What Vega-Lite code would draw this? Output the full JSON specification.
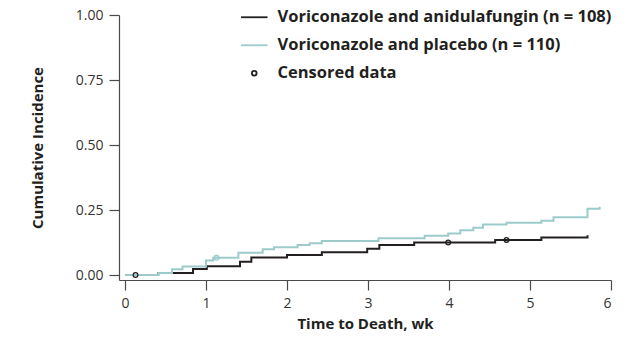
{
  "$schema": "https://vega.github.io/schema/vega-lite/v6.json",
  "width": 492,
  "height": 265,
  "autosize": {"type": "none"},
  "padding": {"left": 119, "top": 15, "right": 17, "bottom": 63},
  "background": "white",
  "config": {
    "font": "Open Sans",
    "view": {"stroke": null},
    "axis": {
      "domainColor": "#4a4a4a",
      "tickColor": "#4a4a4a",
      "domainWidth": 1.2,
      "tickWidth": 1.2,
      "tickSize": 10,
      "labelColor": "#333333",
      "labelFontSize": 14,
      "labelFont": "Open Sans",
      "titleFont": "Open Sans",
      "titleFontSize": 15,
      "titleFontWeight": "bold",
      "titleColor": "#231f20",
      "grid": false
    }
  },
  "datasets": {
    "curves": [
      {"week": 0, "ci": 0, "entry": "Voriconazole and anidulafungin (n = 108)"},
      {"week": 0.41, "ci": 0.008, "entry": "Voriconazole and anidulafungin (n = 108)"},
      {"week": 0.84, "ci": 0.023, "entry": "Voriconazole and anidulafungin (n = 108)"},
      {"week": 1.01, "ci": 0.034, "entry": "Voriconazole and anidulafungin (n = 108)"},
      {"week": 1.42, "ci": 0.051, "entry": "Voriconazole and anidulafungin (n = 108)"},
      {"week": 1.56, "ci": 0.067, "entry": "Voriconazole and anidulafungin (n = 108)"},
      {"week": 2.0, "ci": 0.077, "entry": "Voriconazole and anidulafungin (n = 108)"},
      {"week": 2.43, "ci": 0.088, "entry": "Voriconazole and anidulafungin (n = 108)"},
      {"week": 2.99, "ci": 0.101, "entry": "Voriconazole and anidulafungin (n = 108)"},
      {"week": 3.14, "ci": 0.115, "entry": "Voriconazole and anidulafungin (n = 108)"},
      {"week": 3.57, "ci": 0.125, "entry": "Voriconazole and anidulafungin (n = 108)"},
      {"week": 4.57, "ci": 0.135, "entry": "Voriconazole and anidulafungin (n = 108)"},
      {"week": 5.14, "ci": 0.144, "entry": "Voriconazole and anidulafungin (n = 108)"},
      {"week": 5.71, "ci": 0.153, "entry": "Voriconazole and anidulafungin (n = 108)"},
      {"week": 0, "ci": 0, "entry": "Voriconazole and placebo (n = 110)"},
      {"week": 0.41, "ci": 0.008, "entry": "Voriconazole and placebo (n = 110)"},
      {"week": 0.58, "ci": 0.022, "entry": "Voriconazole and placebo (n = 110)"},
      {"week": 0.71, "ci": 0.033, "entry": "Voriconazole and placebo (n = 110)"},
      {"week": 1.0, "ci": 0.056, "entry": "Voriconazole and placebo (n = 110)"},
      {"week": 1.09, "ci": 0.066, "entry": "Voriconazole and placebo (n = 110)"},
      {"week": 1.4, "ci": 0.086, "entry": "Voriconazole and placebo (n = 110)"},
      {"week": 1.7, "ci": 0.099, "entry": "Voriconazole and placebo (n = 110)"},
      {"week": 1.84, "ci": 0.107, "entry": "Voriconazole and placebo (n = 110)"},
      {"week": 2.13, "ci": 0.115, "entry": "Voriconazole and placebo (n = 110)"},
      {"week": 2.28, "ci": 0.122, "entry": "Voriconazole and placebo (n = 110)"},
      {"week": 2.43, "ci": 0.131, "entry": "Voriconazole and placebo (n = 110)"},
      {"week": 3.13, "ci": 0.141, "entry": "Voriconazole and placebo (n = 110)"},
      {"week": 3.7, "ci": 0.151, "entry": "Voriconazole and placebo (n = 110)"},
      {"week": 3.99, "ci": 0.16, "entry": "Voriconazole and placebo (n = 110)"},
      {"week": 4.14, "ci": 0.172, "entry": "Voriconazole and placebo (n = 110)"},
      {"week": 4.3, "ci": 0.182, "entry": "Voriconazole and placebo (n = 110)"},
      {"week": 4.42, "ci": 0.194, "entry": "Voriconazole and placebo (n = 110)"},
      {"week": 4.71, "ci": 0.201, "entry": "Voriconazole and placebo (n = 110)"},
      {"week": 5.14, "ci": 0.209, "entry": "Voriconazole and placebo (n = 110)"},
      {"week": 5.29, "ci": 0.222, "entry": "Voriconazole and placebo (n = 110)"},
      {"week": 5.71, "ci": 0.255, "entry": "Voriconazole and placebo (n = 110)"},
      {"week": 5.86, "ci": 0.263, "entry": "Voriconazole and placebo (n = 110)"}
    ],
    "censored": [
      {"week": 0.13, "ci": 0, "grp": "anidulafungin", "entry": "Censored data"},
      {"week": 1.13, "ci": 0.066, "grp": "placebo", "entry": "Censored data"},
      {"week": 3.99, "ci": 0.125, "grp": "anidulafungin", "entry": "Censored data"},
      {"week": 4.71, "ci": 0.135, "grp": "anidulafungin", "entry": "Censored data"}
    ]
  },
  "layer": [
    {
      "data": {"name": "curves"},
      "mark": {"type": "line", "interpolate": "step-after", "strokeWidth": 2},
      "encoding": {
        "x": {
          "field": "week", "type": "quantitative",
          "scale": {"domain": [-0.074, 6], "nice": false, "zero": false},
          "axis": {"values": [0, 1, 2, 3, 4, 5, 6], "format": "d", "title": "Time to Death, wk", "labelPadding": 6, "titlePadding": 6}
        },
        "y": {
          "field": "ci", "type": "quantitative",
          "scale": {"domain": [-0.0192, 1], "nice": false, "zero": false},
          "axis": {"values": [0, 0.25, 0.5, 0.75, 1], "format": ".2f", "title": "Cumulative Incidence", "labelPadding": 6, "titlePadding": 30}
        },
        "color": {
          "field": "entry", "type": "nominal",
          "scale": {
            "domain": ["Voriconazole and anidulafungin (n = 108)", "Voriconazole and placebo (n = 110)", "Censored data"],
            "range": ["#231f20", "#9dcbcb", "#231f20"]
          },
          "legend": {
            "title": null,
            "orient": "none",
            "legendX": 127,
            "legendY": -6,
            "padding": 0,
            "labelFont": "Open Sans",
            "labelFontSize": 16.5,
            "labelFontWeight": "bold",
            "labelColor": "#231f20",
            "labelOffset": 15,
            "rowPadding": 11,
            "symbolStrokeWidth": 1.8,
            "labelLimit": 400
          }
        }
      }
    },
    {
      "data": {"name": "censored"},
      "mark": {"type": "point", "filled": false, "strokeWidth": 1.3, "opacity": 1},
      "encoding": {
        "x": {"field": "week", "type": "quantitative"},
        "y": {"field": "ci", "type": "quantitative"},
        "color": {"field": "entry", "type": "nominal"},
        "shape": {
          "field": "entry", "type": "nominal",
          "scale": {
            "domain": ["Voriconazole and anidulafungin (n = 108)", "Voriconazole and placebo (n = 110)", "Censored data"],
            "range": ["M-2.5,0H2.5", "M-2.5,0H2.5", "circle"]
          }
        },
        "size": {
          "field": "entry", "type": "nominal",
          "scale": {
            "type": "ordinal",
            "domain": ["Voriconazole and anidulafungin (n = 108)", "Voriconazole and placebo (n = 110)", "Censored data"],
            "range": [113, 113, 22]
          }
        },
        "stroke": {
          "field": "grp", "type": "nominal",
          "scale": {"domain": ["anidulafungin", "placebo"], "range": ["#231f20", "#9dcbcb"]},
          "legend": null
        }
      }
    }
  ]
}
